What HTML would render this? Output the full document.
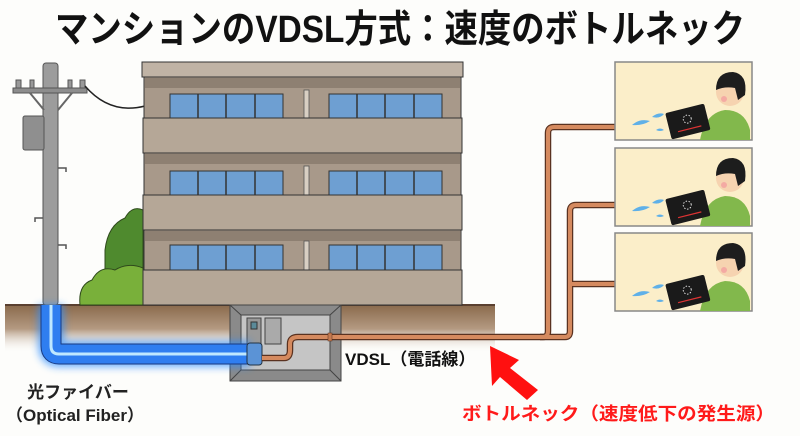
<!DOCTYPE html>
<html><head><meta charset="utf-8"><style>
html,body{margin:0;padding:0;background:#fdfdfb;}
svg{display:block}
text{font-family:"Liberation Sans","Noto Sans CJK JP",sans-serif;font-weight:bold}
</style></head><body>
<svg width="800" height="436" viewBox="0 0 800 436" xmlns="http://www.w3.org/2000/svg">
<defs>
<linearGradient id="earth" x1="0" y1="0" x2="0" y2="1">
<stop offset="0" stop-color="#8a6a4c"/><stop offset="0.5" stop-color="#b49a82"/><stop offset="1" stop-color="#fdfdfb" stop-opacity="0"/>
</linearGradient>
<filter id="glow" x="-20%" y="-50%" width="140%" height="200%"><feGaussianBlur stdDeviation="4"/></filter>
</defs>
<rect width="800" height="436" fill="#fdfdfb"/>
<text x="400" y="42" font-size="38" text-anchor="middle" textLength="690" lengthAdjust="spacingAndGlyphs" fill="#111">マンションのVDSL方式：速度のボトルネック</text>

<!-- earth -->
<rect x="5" y="305" width="490" height="48" fill="url(#earth)"/>
<line x1="5" y1="305" x2="495" y2="305" stroke="#5a4030" stroke-width="2"/>

<!-- bush -->
<g stroke="#2f4a1c" stroke-width="1">
<path d="M105 305 L105 250 Q108 225 125 218 Q132 205 143 210 L143 305Z" fill="#4f8a2e"/>
<path d="M80 305 Q78 285 92 280 Q100 265 115 270 Q128 262 143 268 L143 305Z" fill="#79b03a"/>
</g>

<!-- pole -->
<rect x="43" y="63" width="15" height="242" rx="3" fill="#9c9c9c" stroke="#555"/>
<rect x="13" y="88" width="74" height="5" fill="#8d8d8d" stroke="#555"/>
<rect x="16" y="80" width="5" height="8" fill="#999" stroke="#555"/>
<rect x="30" y="80" width="4" height="8" fill="#999" stroke="#555"/>
<rect x="68" y="80" width="4" height="8" fill="#999" stroke="#555"/>
<rect x="80" y="80" width="5" height="8" fill="#999" stroke="#555"/>
<path d="M30 93 L44 110 M72 93 L58 110" stroke="#666" stroke-width="2"/>
<rect x="23" y="116" width="21" height="34" rx="2" fill="#8f8f8f" stroke="#555"/>
<path d="M85 86 Q110 115 145 106" fill="none" stroke="#222" stroke-width="1.5"/>
<path d="M58 168h8v4M58 245h8v4M43 218h-8v4" stroke="#555" fill="none" stroke-width="1.5"/>

<!-- building -->
<rect x="144" y="77" width="317" height="228" fill="#a8998a" stroke="#333"/>
<rect x="142" y="62" width="321" height="15" fill="#c0b3a5" stroke="#333"/>
<g fill="#8e8072">
<rect x="145" y="78" width="315" height="10"/><rect x="145" y="154" width="315" height="10"/><rect x="145" y="231" width="315" height="10"/>
</g>
<g fill="#6e9fd2" stroke="#333">
<rect x="170" y="94" width="113" height="24"/><rect x="329" y="94" width="113" height="24"/>
<rect x="170" y="171" width="113" height="24"/><rect x="329" y="171" width="113" height="24"/>
<rect x="170" y="245" width="113" height="25"/><rect x="329" y="245" width="113" height="25"/>
</g>
<g stroke="#333" stroke-width="1.5">
<path d="M198 94v24M226 94v24M255 94v24M357 94v24M385 94v24M414 94v24"/>
<path d="M198 171v24M226 171v24M255 171v24M357 171v24M385 171v24M414 171v24"/>
<path d="M198 245v25M226 245v25M255 245v25M357 245v25M385 245v25M414 245v25"/>
</g>
<g fill="#d8cfc3" stroke="#555" stroke-width="0.8">
<rect x="304" y="90" width="5" height="28"/><rect x="304" y="166" width="5" height="29"/><rect x="304" y="241" width="5" height="29"/>
</g>
<g fill="#b5a797" stroke="#333">
<rect x="143" y="118" width="319" height="35"/><rect x="143" y="195" width="319" height="35"/><rect x="143" y="270" width="319" height="35"/>
</g>

<!-- box -->
<rect x="230" y="305" width="111" height="76" fill="#8a8a8a" stroke="#444"/>
<path d="M230 305L241 315M341 305L330 315M230 381L241 370M341 381L330 370" stroke="#444"/>
<rect x="241" y="315" width="89" height="55" fill="#c5c5c5" stroke="#444"/>
<rect x="247" y="318" width="14" height="26" fill="#999" stroke="#444"/>
<rect x="251" y="322" width="6" height="7" fill="#5a8a99" stroke="#333"/>
<rect x="265" y="318" width="16" height="26" fill="#aaa" stroke="#444"/>

<!-- fiber -->
<path d="M51 305 V346 Q51 354 59 354 H250" fill="none" stroke="#2a8cff" stroke-width="26" filter="url(#glow)" opacity="0.7"/>
<path d="M51 305 V346 Q51 354 59 354 H250" fill="none" stroke="#1a3a80" stroke-width="21"/>
<path d="M51 305 V346 Q51 354 59 354 H250" fill="none" stroke="#2f7ef0" stroke-width="19"/>
<path d="M51 305 V346 Q51 354 59 354 H250" fill="none" stroke="#bfe8ff" stroke-width="3"/>
<rect x="247" y="343" width="15" height="22" rx="3" fill="#5b93d6" stroke="#234"/>

<!-- copper -->
<g fill="none" stroke-linejoin="round">
<path id="p1" d="M262 358 H284 Q290 358 290 350 V344 Q290 337 298 337 H543 Q548 337 548 331 V133 Q548 127 554 127 H625" stroke="#5a3220" stroke-width="6.5"/>
<path d="M540 337 H565 Q570 337 570 331 V211 Q570 205 576 205 H625 M570 284 H625" stroke="#5a3220" stroke-width="6.5"/>
<path d="M262 358 H284 Q290 358 290 350 V344 Q290 337 298 337 H543 Q548 337 548 331 V133 Q548 127 554 127 H625" stroke="#d58a5f" stroke-width="4"/>
<path d="M540 337 H565 Q570 337 570 331 V211 Q570 205 576 205 H625 M570 284 H625" stroke="#d58a5f" stroke-width="4"/>
</g>
<rect x="328" y="333" width="4" height="8" fill="#c57a50" stroke="#5a3220" stroke-width="0.5"/>

<!-- panels -->
<g>
<g id="pn">
<rect x="615" y="62" width="137" height="78" fill="#fbeec9" stroke="#888" stroke-width="1.5"/>
<path d="M632 125 Q640 118 650 121 Q642 126 632 125Z M652 117 Q658 112 664 114 Q660 119 652 117Z M656 130 Q660 127 664 130 Q660 132 656 130Z" fill="#5fb0e8"/>
<rect x="720" y="125" width="28" height="15" fill="#3d5d7a"/>
<path d="M700 140 Q705 113 725 110 Q745 110 750 130 L750 140Z" fill="#82b84c"/>
<circle cx="730" cy="92" r="14" fill="#f6d3b0"/>
<path d="M716 90 Q716 72 733 72 Q748 74 745 95 L738 100 L735 88 Q725 86 716 90Z" fill="#1d1d1d"/>
<circle cx="724" cy="99" r="3" fill="#f4a0a0" opacity="0.8"/>
<g transform="rotate(-14 688 122)"><rect x="668" y="108" width="40" height="27" rx="2" fill="#1a1a1a"/><line x1="676" y1="129" x2="700" y2="129" stroke="#d33" stroke-width="1.2"/><circle cx="688" cy="119" r="4" fill="none" stroke="#ddd" stroke-width="1" stroke-dasharray="1.5 1.5"/></g>
</g>
<use href="#pn" y="86"/>
<use href="#pn" y="171"/>
</g>

<!-- labels -->
<text x="345" y="365" font-size="17" fill="#111">VDSL（電話線）</text>
<text x="78" y="398" font-size="17" text-anchor="middle" fill="#222">光ファイバー</text>
<text x="75" y="421" font-size="17" text-anchor="middle" fill="#222">（Optical Fiber）</text>
<path d="M490 346 L519 360 L510 368 L538 390 L527 400 L500 377 L492 386Z" fill="#ff1010"/>
<text x="462" y="420" font-size="18" fill="#ff1a1a" textLength="313" lengthAdjust="spacingAndGlyphs">ボトルネック（速度低下の発生源）</text>
</svg>
</body></html>
